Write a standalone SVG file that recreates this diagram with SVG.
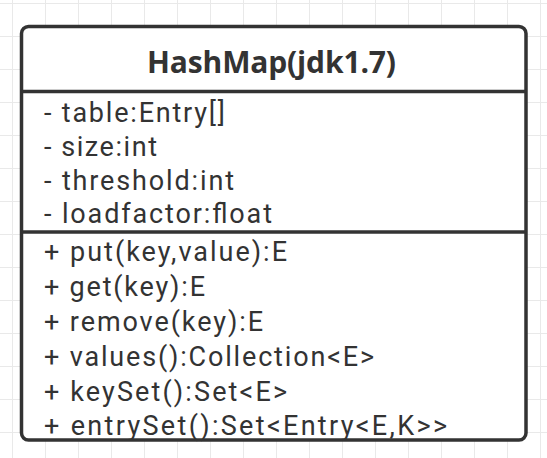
<svg xmlns="http://www.w3.org/2000/svg" width="547" height="458" viewBox="0 0 547 458">
<defs>
<pattern id="grid" x="12" y="3" width="33" height="33" patternUnits="userSpaceOnUse">
<path d="M0 0 H33 M0 0 V33" fill="none" stroke="#e9e9e9" stroke-width="2"/>
</pattern>
</defs>
<style>
.t{font-family:Roboto,"Liberation Sans",sans-serif;font-size:27px;fill:#333}
.h{font-family:"Open Sans","Noto Sans","DejaVu Sans",sans-serif;font-size:30px;font-weight:bold;fill:#333}
.b{fill:#fff;stroke:#333;stroke-width:3.5}
.d{stroke:#333;stroke-width:3.5}
</style>
<rect width="547" height="458" fill="#fff"/>
<rect width="547" height="458" fill="url(#grid)"/>
<g id="HashMap">
<rect class="b" x="21.5" y="26.5" width="504.5" height="413.5" rx="7"/>
<line class="d" x1="21.5" y1="91.5" x2="526" y2="91.5"/>
<line class="d" x1="21.5" y1="232" x2="526" y2="232"/>
<text class="h" x="147" y="73" textLength="249">HashMap(jdk1.7)</text>
<text class="t" x="44" y="122" textLength="181">- table:Entry[]</text>
<text class="t" x="44" y="156" textLength="113">- size:int</text>
<text class="t" x="44" y="190" textLength="190">- threshold:int</text>
<text class="t" x="44" y="223" textLength="228">- loadfactor:float</text>
<text class="t" x="44" y="261" textLength="243">+ put(key,value):E</text>
<text class="t" x="44" y="296" textLength="161">+ get(key):E</text>
<text class="t" x="44" y="331" textLength="219">+ remove(key):E</text>
<text class="t" x="44" y="366" textLength="330">+ values():Collection&lt;E&gt;</text>
<text class="t" x="44" y="401" textLength="243">+ keySet():Set&lt;E&gt;</text>
<text class="t" x="44" y="435" textLength="403">+ entrySet():Set&lt;Entry&lt;E,K&gt;&gt;</text>
</g>
<g id="connectors"/>
</svg>
